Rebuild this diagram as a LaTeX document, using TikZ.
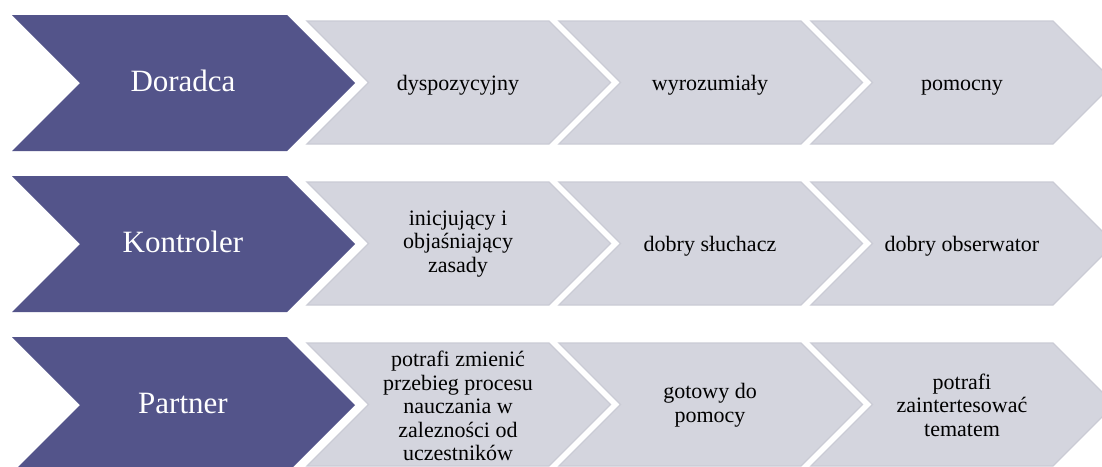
\documentclass[tikz,border=0pt]{standalone}
\usepackage{fontspec}
\setmainfont{Liberation Serif}
\definecolor{darkfill}{RGB}{83,84,138}
\definecolor{lightfill}{RGB}{212,213,222}
\definecolor{lightline}{RGB}{202,203,213}
% #1 style, #2 left x, #3 top y, #4 top length, #5 height
\newcommand\chevpath[5]{%
  \path[#1] (#2,#3) -- ++(#4,0) -- ++(#5/2,#5/2) -- ++(-#5/2,#5/2)
    -- ++(-#4,0) -- ++(#5/2,-#5/2) -- cycle;}
\begin{document}
\begin{tikzpicture}[x=1pt,y=-1pt,
  darkchev/.style={fill=darkfill},
  lightchev/.style={fill=lightfill,draw=lightline,line width=1.3pt,line join=miter},
  darktext/.style={text=white,font=\fontsize{31}{37}\selectfont,inner sep=0pt,anchor=base},
  lighttext/.style={text=black,font=\fontsize{22}{23.6}\selectfont,align=center,inner sep=0pt},
  lightline1/.style={lighttext,anchor=base}]
\useasboundingbox (0,0) rectangle (1102,466);
\clip (0,0) rectangle (1102,466);
\fill[white] (0,0) rectangle (1102,466);
% rows
\foreach \r in {0,1,2}{
  \pgfmathsetmacro\dt{15+161*\r}
  \pgfmathsetmacro\lt{21+161*\r}
  \chevpath{darkchev}{12}{\dt}{275}{136}
  \foreach \k in {0,1,2}{
    \pgfmathsetmacro\lx{307+252*\k}
    \chevpath{lightchev}{\lx}{\lt}{242}{123}
  }
}
% row 1
\node[darktext] (r1) at (183,91.5) {Doradca};
\node[lightline1] (r1a) at (458,90) {dyspozycyjny};
\node[lightline1] (r1b) at (710,90) {wyrozumiały};
\node[lightline1] (r1c) at (962,90) {pomocny};
% row 2
\node[darktext] (r2) at (183,252.5) {Kontroler};
\node[lighttext] (r2a) at (458,244) {inicjujący i\\objaśniający\\zasady};
\node[lightline1] (r2b) at (710,251) {dobry słuchacz};
\node[lightline1] (r2c) at (962,251) {dobry obserwator};
% row 3
\node[darktext] (r3) at (183,413.5) {Partner};
\node[lighttext] (r3a) at (458,406) {potrafi zmienić\\przebieg procesu\\nauczania w\\zalezności od\\uczestników};
\node[lighttext] (r3b) at (710,405) {gotowy do\\pomocy};
\node[lighttext] (r3c) at (962,405) {potrafi\\zaintertesować\\tematem};
\end{tikzpicture}
\end{document}
